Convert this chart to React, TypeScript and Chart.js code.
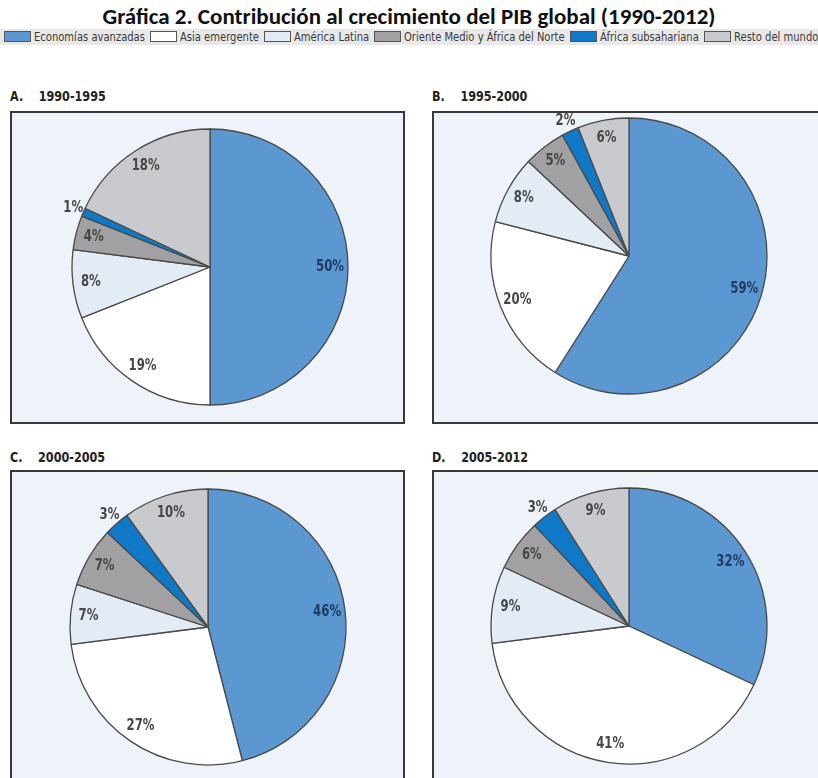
import React, { useEffect, useRef } from "react";
import { Chart, registerables } from "chart.js";
Chart.register(...registerables);

const categories = [
  "Economías avanzadas",
  "Asia emergente",
  "América Latina",
  "Oriente Medio y África del Norte",
  "África subsahariana",
  "Resto del mundo",
];
const colors = ["#5b97d1", "#ffffff", "#e3ebf5", "#a1a1a3", "#0f79c7", "#c9cacd"];
const panelTitles = ["A.    1990-1995", "B.    1995-2000", "C.    2000-2005", "D.    2005-2012"];
const valuesA = [50, 19, 8, 4, 1, 18];
const valuesB = [59, 20, 8, 5, 2, 6];
const valuesC = [46, 27, 7, 7, 3, 10];
const valuesD = [32, 41, 9, 6, 3, 9];
const allValues = [valuesA, valuesB, valuesC, valuesD];

const BASE = '"DejaVu Sans", "Liberation Sans", sans-serif';

let measureCanvas: HTMLCanvasElement | null = null;
function measure(text: string, font: string) {
  if (!measureCanvas) measureCanvas = document.createElement("canvas");
  const c = measureCanvas.getContext("2d")!;
  c.font = font;
  return c.measureText(text).width;
}

const labelPlugin = {
  id: "sliceLabels",
  afterDatasetsDraw(chart: any) {
    const ctx = chart.ctx;
    const meta = chart.getDatasetMeta(0);
    const data = chart.data.datasets[0].data as number[];
    meta.data.forEach((arc: any, i: number) => {
      const { x, y, startAngle, endAngle, outerRadius } = arc.getProps(
        ["x", "y", "startAngle", "endAngle", "outerRadius"],
        true
      );
      const mid = (startAngle + endAngle) / 2;
      const f = data[i] <= 3 ? 1.08 : 0.87;
      const lx = x + Math.cos(mid) * outerRadius * f;
      const ly = y + Math.sin(mid) * outerRadius * f;
      ctx.save();
      ctx.translate(lx, ly);
      ctx.scale(0.78, 1);
      ctx.font = `bold 15px ${BASE}`;
      ctx.textAlign = "center";
      ctx.textBaseline = "middle";
      ctx.fillStyle = i === 0 ? "#1f3d63" : "#474747";
      ctx.fillText(`${data[i]}%`, 0, 0);
      ctx.restore();
    });
  },
};

function Pie({ values, cx, cy }: { values: number[]; cx: number; cy: number }) {
  const ref = useRef<HTMLCanvasElement>(null);
  useEffect(() => {
    if (!ref.current) return;
    const chart = new Chart(ref.current, {
      type: "pie",
      data: {
        labels: categories,
        datasets: [
          {
            data: values,
            backgroundColor: colors,
            borderColor: "#4a4a4a",
            borderWidth: 1.3,
            radius: 138,
          } as any,
        ],
      },
      options: {
        responsive: false,
        animation: false,
        events: [],
        layout: { padding: 0 },
        plugins: { legend: { display: false }, tooltip: { enabled: false } },
      },
      plugins: [labelPlugin],
    });
    return () => chart.destroy();
  }, [values]);
  const S = 340;
  return (
    <canvas
      ref={ref}
      width={S}
      height={S}
      style={{ position: "absolute", left: cx - S / 2, top: cy - S / 2, width: S, height: S }}
    />
  );
}

const panels = [
  { tx: 10, ty: 96, bx: 10, by: 111, bw: 395, bh: 313, cx: 210, cy: 267 },
  { tx: 432, ty: 96, bx: 432, by: 111, bw: 400, bh: 313, cx: 629, cy: 256 },
  { tx: 10, ty: 457, bx: 10, by: 470, bw: 395, bh: 330, cx: 208, cy: 627 },
  { tx: 432, ty: 457, bx: 432, by: 470, bw: 400, bh: 330, cx: 629, cy: 626 },
];

function Legend() {
  const font = `13px ${BASE}`;
  const widths = categories.map((c) => measure(c, font));
  const SW = 27, G1 = 3, G2 = 5, START = 4, END = 818;
  const total = widths.reduce((a, b) => a + b, 0);
  const k = (END - START - categories.length * (SW + G1) - (categories.length - 1) * G2) / total;
  let x = START;
  const items = categories.map((c, i) => {
    const left = x;
    x += SW + G1 + widths[i] * k + G2;
    return (
      <div key={c} style={{ position: "absolute", left, top: 29, height: 15 }}>
        <span
          style={{
            position: "absolute",
            left: 0,
            top: 2,
            width: SW,
            height: 11,
            boxSizing: "border-box",
            background: colors[i],
            border: "1px solid #555",
          }}
        />
        <span
          style={{
            position: "absolute",
            left: SW + G1,
            top: 0,
            height: 15,
            lineHeight: "15px",
            whiteSpace: "nowrap",
            fontFamily: BASE,
            fontSize: 13,
            color: "#3a3a3a",
            transform: `scaleX(${k})`,
            transformOrigin: "0 0",
          }}
        >
          {c}
        </span>
      </div>
    );
  });
  return <>{items}</>;
}

export default function App() {
  useEffect(() => {
    document.body.style.margin = "0";
  }, []);
  return (
    <div style={{ position: "relative", width: 818, height: 778, overflow: "hidden", background: "#fff" }}>
      <div style={{ position: "absolute", left: 0, top: 29, width: 818, height: 16, background: "#e8e8e8" }} />
      <div
        style={{
          position: "absolute",
          left: 0,
          top: 2,
          width: 818,
          textAlign: "center",
          fontFamily: 'Carlito, Lato, "Open Sans", sans-serif',
          fontWeight: 700,
          fontSize: 23,
          lineHeight: "28px",
          color: "#111",
        }}
      >
        Gráfica 2. Contribución al crecimiento del PIB global (1990-2012)
      </div>
      <Legend />
      {panels.map((p, i) => (
        <React.Fragment key={i}>
          <div
            style={{
              position: "absolute",
              left: p.tx,
              top: p.ty - 9,
              height: 18,
              lineHeight: "18px",
              whiteSpace: "pre",
              fontFamily: BASE,
              fontWeight: 700,
              fontSize: 14,
              color: "#222",
              transform: "scaleX(0.8)",
              transformOrigin: "0 0",
            }}
          >
            {panelTitles[i]}
          </div>
          <div
            style={{
              position: "absolute",
              left: p.bx,
              top: p.by,
              width: p.bw,
              height: p.bh,
              boxSizing: "border-box",
              background: "#eef3f9",
              border: "2px solid #383838",
            }}
          />
          <Pie values={allValues[i]} cx={p.cx} cy={p.cy} />
        </React.Fragment>
      ))}
    </div>
  );
}
